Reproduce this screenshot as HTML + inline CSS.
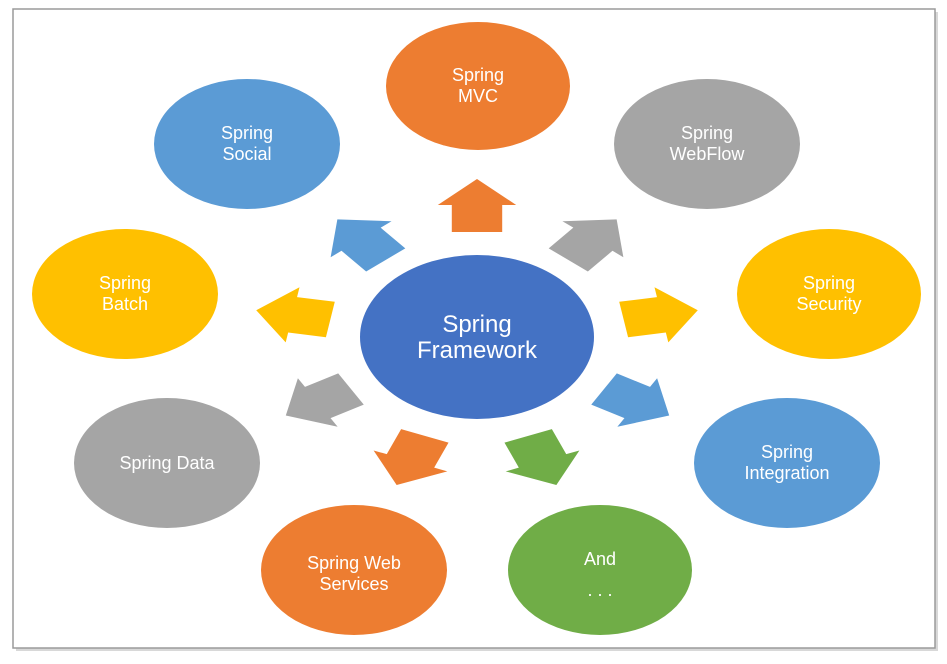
<!DOCTYPE html>
<html><head><meta charset="utf-8"><style>
html,body{margin:0;padding:0;background:#fff;width:947px;height:664px;overflow:hidden}
svg{display:block}
text{font-family:"Liberation Sans",sans-serif;fill:#fff;text-anchor:middle}
</style></head><body>
<svg width="947" height="664" viewBox="0 0 947 664" xmlns="http://www.w3.org/2000/svg">
<defs>
<clipPath id="c"><rect x="13" y="22" width="922" height="613"/></clipPath>
<path id="ar" d="M0,-27 L28,-1 L18,-1 L18,26 L-18,26 L-18,-1 L-28,-1 Z"/>
</defs>
<rect x="16" y="12" width="922" height="639" fill="#d8d8d8"/>
<rect x="13" y="9" width="922" height="639" fill="#fff" stroke="#9a9a9a" stroke-width="1.5"/>
<g clip-path="url(#c)">
<ellipse cx="478" cy="86" rx="92" ry="64" fill="#ed7d31"/>
<ellipse cx="247" cy="144" rx="93" ry="65" fill="#5b9bd5"/>
<ellipse cx="707" cy="144" rx="93" ry="65" fill="#a5a5a5"/>
<ellipse cx="125" cy="294" rx="93" ry="65" fill="#ffc000"/>
<ellipse cx="829" cy="294" rx="92" ry="65" fill="#ffc000"/>
<ellipse cx="167" cy="463" rx="93" ry="65" fill="#a5a5a5"/>
<ellipse cx="787" cy="463" rx="93" ry="65" fill="#5b9bd5"/>
<ellipse cx="354" cy="570" rx="93" ry="65" fill="#ed7d31"/>
<ellipse cx="600" cy="570" rx="92" ry="65" fill="#70ad47"/>
</g>
<ellipse cx="477" cy="337" rx="117" ry="82" fill="#4472c4"/>
<use href="#ar" fill="#ed7d31" transform="translate(477,206) scale(1.4,1)"/>
<use href="#ar" fill="#5b9bd5" transform="translate(362,240) scale(1.42,1) rotate(-40)"/>
<use href="#ar" fill="#a5a5a5" transform="translate(592,240) scale(1.42,1) rotate(40)"/>
<use href="#ar" fill="#ffc000" transform="translate(294,315) scale(1.42,1) rotate(-80)"/>
<use href="#ar" fill="#ffc000" transform="translate(660,315) scale(1.42,1) rotate(80)"/>
<use href="#ar" fill="#a5a5a5" transform="translate(319,402) scale(1.42,1) rotate(-120)"/>
<use href="#ar" fill="#5b9bd5" transform="translate(636,402) scale(1.42,1) rotate(120)"/>
<use href="#ar" fill="#ed7d31" transform="translate(411,460) scale(1.42,1) rotate(-158)"/>
<use href="#ar" fill="#70ad47" transform="translate(542,460) scale(1.42,1) rotate(158)"/>
<g font-size="18">
<text x="478" y="81">Spring</text><text x="478" y="102">MVC</text>
<text x="247" y="139">Spring</text><text x="247" y="160">Social</text>
<text x="707" y="139">Spring</text><text x="707" y="160">WebFlow</text>
<text x="125" y="289">Spring</text><text x="125" y="310">Batch</text>
<text x="829" y="289">Spring</text><text x="829" y="310">Security</text>
<text x="167" y="469">Spring Data</text>
<text x="787" y="458">Spring</text><text x="787" y="479">Integration</text>
<text x="354" y="569">Spring Web</text><text x="354" y="590">Services</text>
<text x="600" y="565">And</text><text x="600" y="596">. . .</text>
</g>
<g font-size="24">
<text x="477" y="332">Spring</text><text x="477" y="358">Framework</text>
</g>
</svg>
</body></html>
